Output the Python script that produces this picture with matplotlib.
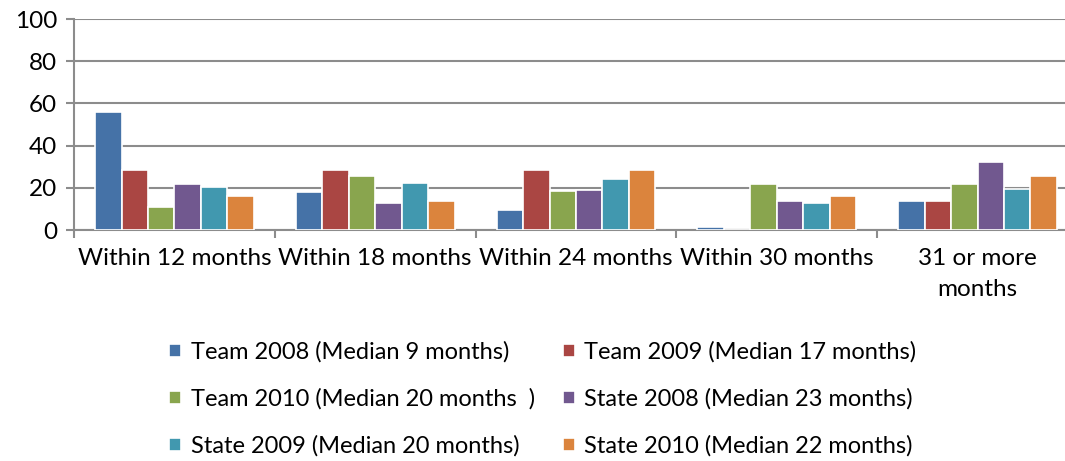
import numpy as np
import matplotlib
matplotlib.use("Agg")
import matplotlib.pyplot as plt

plt.rcParams["font.family"] = ["Lato", "DejaVu Sans"]

categories = ["Within 12 months", "Within 18 months", "Within 24 months",
              "Within 30 months", "31 or more\nmonths"]
series_names = [
    "Team 2008 (Median 9 months)",
    "Team 2009 (Median 17 months)",
    "Team 2010 (Median 20 months  )",
    "State 2008 (Median 23 months)",
    "State 2009 (Median 20 months)",
    "State 2010 (Median 22 months)",
]
team_2008 = [55.7, 17.8, 9.6, 1.4, 13.6]
team_2009 = [28.5, 28.5, 28.5, 0.0, 13.9]
team_2010 = [10.9, 25.8, 18.3, 22.0, 22.0]
state_2008 = [21.8, 12.8, 18.8, 13.6, 32.0]
state_2009 = [20.3, 22.3, 24.2, 13.0, 19.4]
state_2010 = [16.0, 13.6, 28.2, 16.0, 25.6]
yticks = [0, 20, 40, 60, 80, 100]

series = [team_2008, team_2009, team_2010, state_2008, state_2009, state_2010]
colors = ["#4572A7", "#AA4643", "#89A54E", "#71588F", "#4198AF", "#DB843D"]

fig = plt.figure(figsize=(10.65, 4.61), dpi=100)
ax = fig.add_axes([74 / 1065, 1 - 230 / 461, 1004 / 1065, 211 / 461])

x = np.arange(len(categories))
bw = 0.79 / len(series)
handles = []
for i, (vals, col) in enumerate(zip(series, colors)):
    offs = (i - (len(series) - 1) / 2) * bw
    b = ax.bar(x + offs, vals, bw, color=col, edgecolor="white", linewidth=1.2,
               label=series_names[i], zorder=3)
    handles.append(b)

ax.set_xlim(-0.5, len(categories) - 0.5)
ax.set_ylim(0, 100)
ax.set_yticks(yticks)
ax.yaxis.grid(True, color="#8c8c8c", linewidth=1.5, zorder=0)
for s in ["top", "right"]:
    ax.spines[s].set_visible(False)
for s in ["left", "bottom"]:
    ax.spines[s].set_color("#8c8c8c")
    ax.spines[s].set_linewidth(1.5)

ax.set_xticks(np.arange(len(categories) + 1) - 0.5)
ax.set_xticklabels([])
ax.set_xticks(x, minor=True)
ax.set_xticklabels(categories, minor=True, fontsize=17.5, linespacing=1.6)
ax.tick_params(axis="x", which="minor", length=0, pad=13)
ax.tick_params(axis="x", which="major", length=6, width=1.5, color="#8c8c8c")
ax.tick_params(axis="y", length=6, width=1.5, color="#8c8c8c", labelsize=17.5, pad=6)

# legend is filled column-wise, so reorder to read row-wise
order = [0, 2, 4, 1, 3, 5]
fig.legend([handles[i] for i in order], [series_names[i] for i in order],
           ncol=2, loc="upper left", bbox_to_anchor=(160 / 1065, 1 - 332 / 461),
           frameon=False, fontsize=17, handlelength=0.5, handleheight=0.5,
           handletextpad=0.4, columnspacing=1.2, labelspacing=1.08,
           borderaxespad=0)

fig.savefig("out.png", dpi=100)
